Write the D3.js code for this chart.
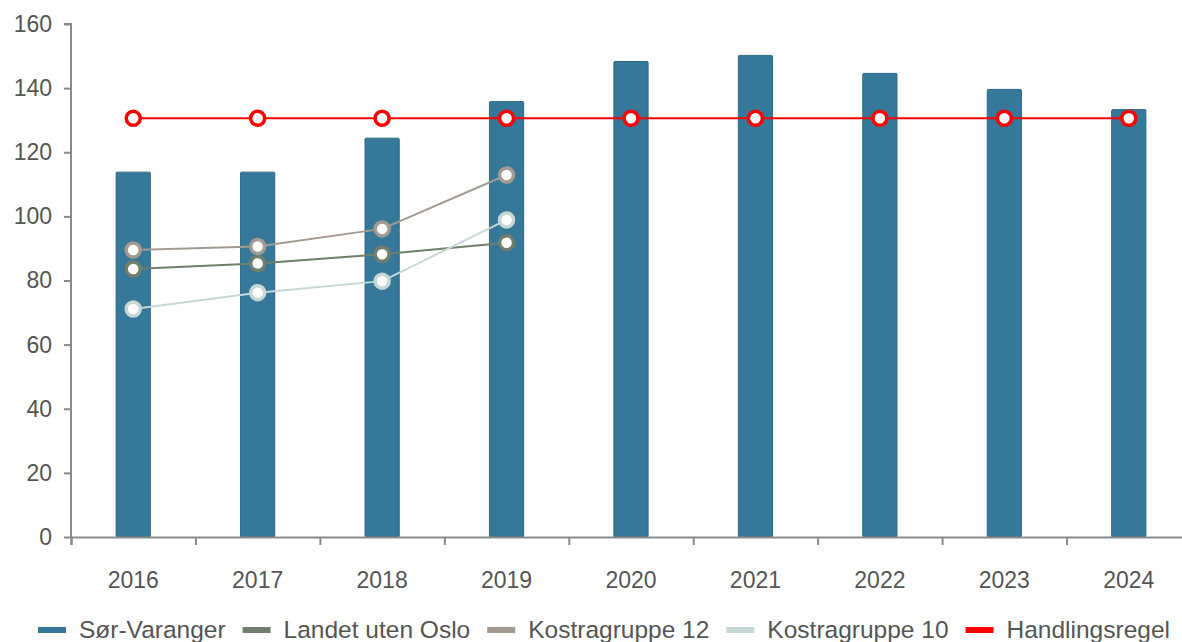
<!DOCTYPE html>
<html>
<head>
<meta charset="utf-8">
<script src="https://cdn.jsdelivr.net/npm/d3@7"></script>
<style>
  body { margin: 0; background: #fff; }
  svg { display: block; font-family: "Liberation Sans", Arial, sans-serif; }
</style>
</head>
<body>
<div id="chart"></div>
<script>
const years = ["2016", "2017", "2018", "2019", "2020", "2021", "2022", "2023", "2024"];
const sorVaranger = [113.8, 113.8, 124.4, 135.8, 148.3, 150.2, 144.6, 139.6, 133.3];
const landetUtenOslo = [83.6, 85.3, 88.2, 91.8];
const kostragruppe12 = [89.5, 90.6, 96.1, 112.9];
const kostragruppe10 = [71.1, 76.2, 79.8, 98.9];
const handlingsregel = [130.6, 130.6, 130.6, 130.6, 130.6, 130.6, 130.6, 130.6, 130.6];
const yTicks = [0, 20, 40, 60, 80, 100, 120, 140, 160];

const width = 1182;
const height = 642;
const margin = { top: 24, left: 71, bottom: 105 };
const plotRight = 1191;

const svg = d3.select("#chart")
    .append("svg")
    .attr("width", width)
    .attr("height", height);

const x = d3.scaleBand()
    .domain(years)
    .range([margin.left, plotRight])
    .padding(0);

const xEdge = d3.scaleLinear()
    .domain([0, years.length])
    .range([margin.left, plotRight]);

const y = d3.scaleLinear()
    .domain([0, 160])
    .range([height - margin.bottom, margin.top]);

const cx = (d, i) => x(years[i]) + x.bandwidth() / 2;

// bars
const barWidth = x.bandwidth() * 0.275;
svg.append("g")
    .selectAll("rect")
    .data(sorVaranger)
    .join("rect")
    .attr("x", (d, i) => cx(d, i) - barWidth / 2)
    .attr("y", (d) => y(d))
    .attr("width", barWidth)
    .attr("height", (d) => y(0) - y(d))
    .attr("rx", 1)
    .attr("fill", "#36789a")
    .attr("stroke", "#2e6a86")
    .attr("stroke-width", 1);

// axes
const yAxis = svg.append("g")
    .attr("transform", `translate(${margin.left},0)`)
    .call(d3.axisLeft(y).tickValues(yTicks).tickSize(7).tickPadding(12));

const xAxis = svg.append("g")
    .attr("transform", `translate(0,${y(0)})`)
    .call(d3.axisBottom(xEdge).ticks(years.length).tickSize(8).tickFormat(""));

svg.append("g")
    .selectAll("text")
    .data(years)
    .join("text")
    .attr("x", (d) => x(d) + x.bandwidth() / 2)
    .attr("y", y(0) + 51)
    .attr("text-anchor", "middle")
    .attr("fill", "#555")
    .style("font-size", "23px")
    .text((d) => d);

[yAxis, xAxis].forEach((g) => {
    g.select(".domain").attr("stroke", "#8a8a8a").attr("stroke-width", 2);
    g.selectAll(".tick line").attr("stroke", "#8a8a8a").attr("stroke-width", 2);
    g.selectAll(".tick text").attr("fill", "#555").style("font-size", "23px");
});
yAxis.select(".domain").attr("d", `M-7,${y(160)}H0V${y(0)}`);

// lines
const lineSeries = [
    { values: landetUtenOslo, color: "#6f7f6b" },
    { values: kostragruppe12, color: "#a39b92" },
    { values: kostragruppe10, color: "#c5d8d6" },
    { values: handlingsregel, color: "#ff0000" }
];

const line = d3.line()
    .x((d, i) => cx(d, i))
    .y((d) => y(d));

lineSeries.forEach((s) => {
    const g = svg.append("g");
    g.append("path")
        .datum(s.values)
        .attr("fill", "none")
        .attr("stroke", s.color)
        .attr("stroke-width", 2)
        .attr("d", line);
    g.selectAll("circle")
        .data(s.values)
        .join("circle")
        .attr("cx", (d, i) => cx(d, i))
        .attr("cy", (d) => y(d))
        .attr("r", 7)
        .attr("fill", "#fff")
        .attr("stroke", s.color)
        .attr("stroke-width", 3.5);
});

// legend
const legendItems = [
    { name: "Sør-Varanger", color: "#36789a" },
    { name: "Landet uten Oslo", color: "#6f7f6b" },
    { name: "Kostragruppe 12", color: "#a39b92" },
    { name: "Kostragruppe 10", color: "#c5d8d6" },
    { name: "Handlingsregel", color: "#ff0000" }
];

const legend = svg.append("g").attr("transform", `translate(0,${height - 12})`);
let lx = 38;
legendItems.forEach((item) => {
    legend.append("rect")
        .attr("x", lx)
        .attr("y", -3)
        .attr("width", 28)
        .attr("height", 6)
        .attr("fill", item.color);
    const t = legend.append("text")
        .attr("x", lx + 41)
        .attr("y", 8)
        .attr("fill", "#555")
        .style("font-size", "24.5px")
        .text(item.name);
    lx += 41 + t.node().getComputedTextLength() + 17;
});
</script>
</body>
</html>
